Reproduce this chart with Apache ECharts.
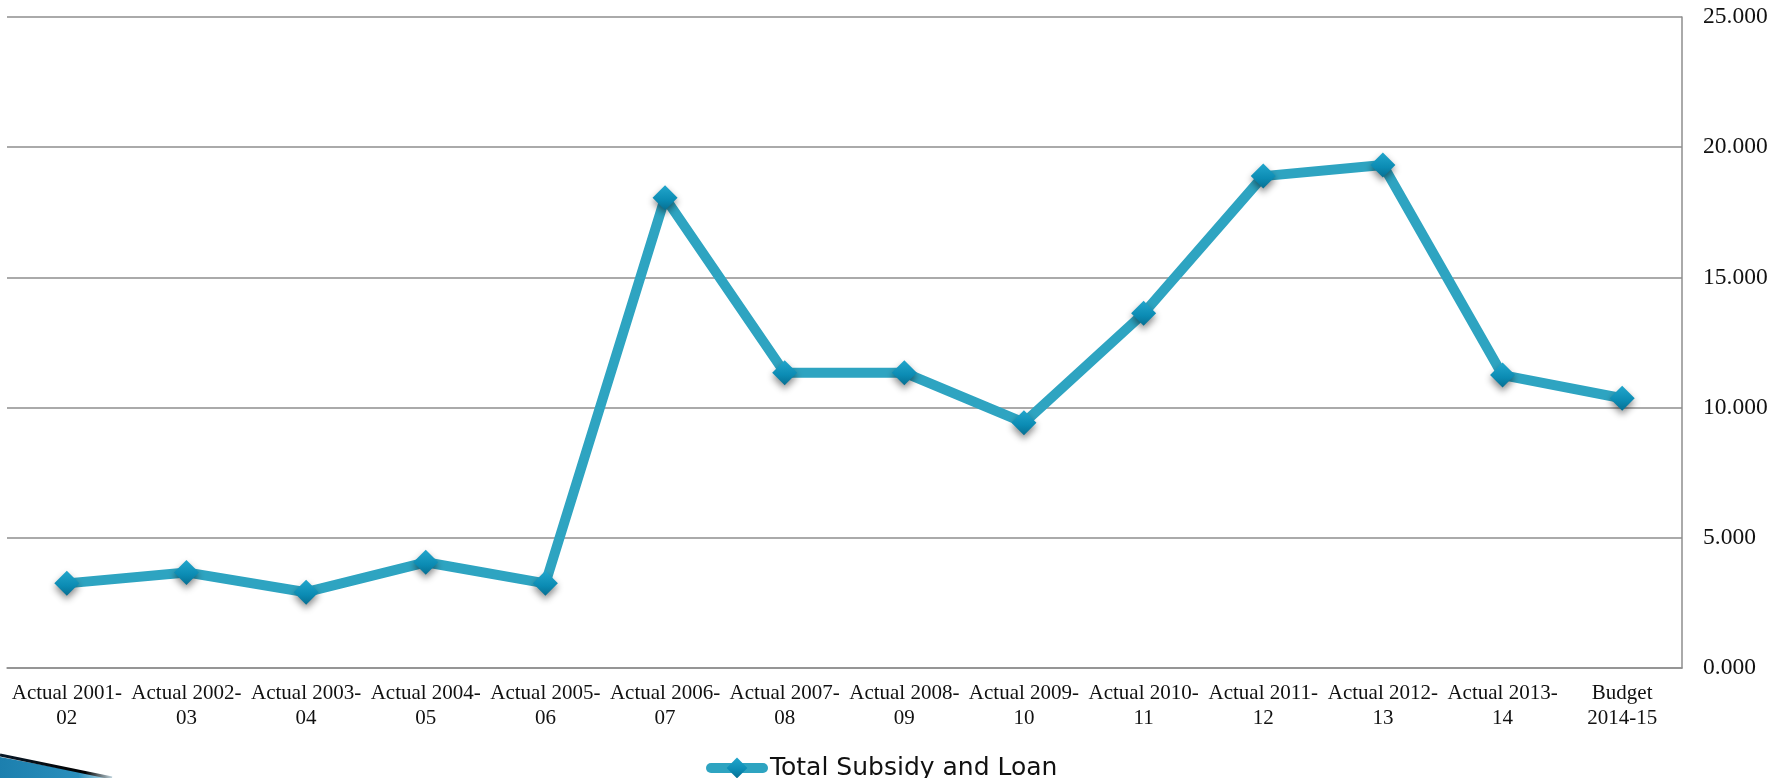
<!DOCTYPE html>
<html>
<head>
<meta charset="utf-8">
<script src="https://cdn.jsdelivr.net/npm/echarts@6/dist/echarts.min.js"></script>
<style>
  html, body { margin: 0; padding: 0; background: #ffffff; }
  #chart { width: 1783px; height: 778px; }
</style>
</head>
<body>
<div id="chart"></div>
<script>
// Fiscal-year categories (two-line tick labels)
const categories = [
  'Actual 2001-\n02', 'Actual 2002-\n03', 'Actual 2003-\n04', 'Actual 2004-\n05',
  'Actual 2005-\n06', 'Actual 2006-\n07', 'Actual 2007-\n08', 'Actual 2008-\n09',
  'Actual 2009-\n10', 'Actual 2010-\n11', 'Actual 2011-\n12', 'Actual 2012-\n13',
  'Actual 2013-\n14', 'Budget\n2014-15'
];

const seriesName = 'Total Subsidy and Loan';
const subsidyAndLoan = [3.25, 3.67, 2.91, 4.06, 3.25, 18.06, 11.34, 11.34, 9.42, 13.62, 18.89, 19.32, 11.25, 10.36];

const yTicks = { min: 0, max: 25, interval: 5 };

const lineColor = '#2ea4c1';
const gridColor = '#8e8e8e';

const chart = echarts.init(document.getElementById('chart'), null, { renderer: 'canvas' });

chart.setOption({
  animation: false,
  backgroundColor: '#ffffff',
  grid: { left: 7, right: 101, top: 17, bottom: 110, containLabel: false },
  legend: {
    data: [seriesName],
    left: 701,
    top: 750,
    itemWidth: 52,
    itemHeight: 26,
    itemGap: 0,
    lineStyle: { width: 10, cap: 'round' },
    textStyle: {
      fontFamily: 'DejaVu Sans',
      fontSize: 25,
      color: '#111111',
      lineHeight: 26,
      padding: [0, 0, 0, 2]
    }
  },
  xAxis: {
    type: 'category',
    data: categories,
    boundaryGap: true,
    axisLine: { show: true, lineStyle: { color: gridColor, width: 1.5 } },
    axisTick: { show: false },
    axisLabel: {
      interval: 0,
      margin: 13,
      fontFamily: 'Liberation Serif',
      fontSize: 21,
      lineHeight: 25,
      color: '#111111',
      align: 'center'
    }
  },
  yAxis: {
    type: 'value',
    position: 'right',
    min: yTicks.min,
    max: yTicks.max,
    interval: yTicks.interval,
    axisLine: { show: true, lineStyle: { color: gridColor, width: 1.5 } },
    axisTick: { show: false },
    splitLine: { show: true, lineStyle: { color: gridColor, width: 1.5 } },
    axisLabel: {
      margin: 21,
      fontFamily: 'Liberation Serif',
      fontSize: 23.5,
      color: '#111111',
      formatter: v => v.toFixed(3)
    }
  },
  series: [{
    name: seriesName,
    type: 'line',
    data: subsidyAndLoan,
    symbol: 'diamond',
    symbolSize: 25,
    showSymbol: true,
    lineStyle: { color: lineColor, width: 10, cap: 'round', join: 'round' },
    itemStyle: {
      color: new echarts.graphic.LinearGradient(0, 0, 0, 1, [
        { offset: 0, color: '#22a6cc' },
        { offset: 0.6, color: '#0b8bb3' },
        { offset: 1, color: '#076f92' }
      ]),
      shadowColor: 'rgba(0,0,0,0.45)',
      shadowBlur: 7,
      shadowOffsetY: 4
    },
    emphasis: { disabled: true },
    z: 3
  }],
  graphic: [
    {
      type: 'polygon',
      silent: true,
      shape: { points: [[0, 757], [112, 778], [0, 778]] },
      style: {
        fill: new echarts.graphic.LinearGradient(0, 0, 1, 0, [
          { offset: 0, color: '#1c7fae' },
          { offset: 0.7, color: '#2a8fbc' },
          { offset: 1, color: '#d8eef6' }
        ])
      }
    },
    {
      type: 'polyline',
      silent: true,
      shape: { points: [[0, 755], [112, 778]] },
      style: {
        lineWidth: 3,
        stroke: new echarts.graphic.LinearGradient(0, 0, 1, 0, [
          { offset: 0, color: '#0a1a2a' },
          { offset: 0.75, color: '#000000' },
          { offset: 1, color: '#cfe6f0' }
        ])
      }
    }
  ]
});
</script>
</body>
</html>
